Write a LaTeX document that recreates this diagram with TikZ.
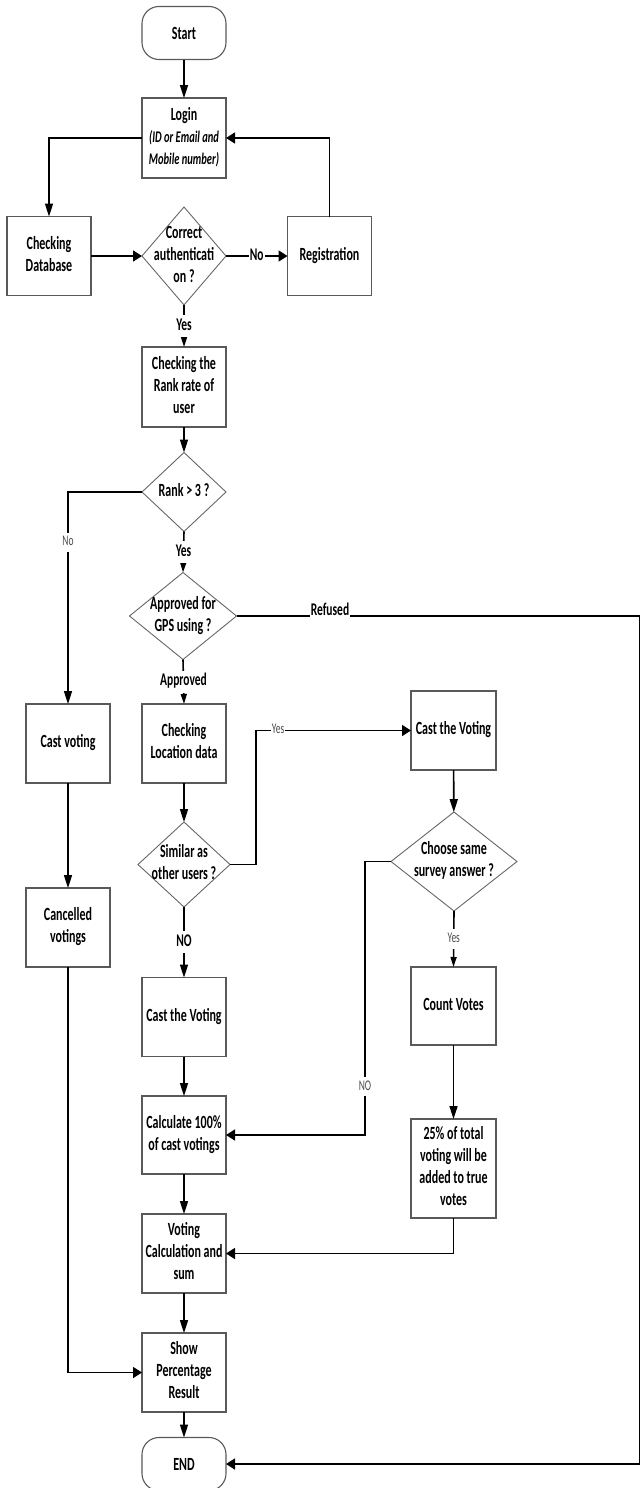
\documentclass[tikz,border=0pt]{standalone}
\usepackage{fontspec}
\setmainfont{Carlito}
\usepackage{graphicx}
\usetikzlibrary{shapes.geometric,arrows.meta}
% tall, narrow lettering: every text block is stretched vertically
\newcommand\vtxt[1]{\scalebox{1}[1.55]{\begin{tabular}{@{}c@{}}#1\end{tabular}}}
\newcommand\boxfont{\fontsize{12}{14.2}\selectfont\bfseries}
\newcommand\lblfont{\fontsize{11.5}{13}\selectfont\bfseries}
\newcommand\smlfont{\fontsize{9.5}{11}\selectfont}
\newcommand\subfont{\fontsize{10.5}{13.2}\selectfont\bfseries\itshape}
\begin{document}
\begin{tikzpicture}[x=1pt,y=-1pt,
  box/.style={draw=black!65, line width=1.1pt, minimum width=84pt, minimum height=79pt,
              inner sep=0pt, outer sep=0pt, font=\boxfont},
  % terminals are drawn in a vertically stretched frame (elliptic ends)
  term/.style={draw=black!65, line width=1.1pt, minimum width=84pt, minimum height=34.2pt,
              inner sep=0pt, outer sep=0pt, font=\boxfont, rounded corners=17pt, transform shape},
  decision/.style={diamond, draw=black!60, line width=0.9pt, inner sep=0pt, outer sep=0pt},
  dtext/.style={font=\boxfont, inner sep=0pt},
  conn/.style={line width=1.6pt, draw=black},
  harr/.style={conn, -{Triangle[length=9pt,width=11pt]}},
  varr/.style={conn, -{Triangle[length=13pt,width=8pt]}},
  sarr/.style={conn, -{Triangle[length=10pt,width=6pt]}},
  lblb/.style={font=\lblfont, fill=white, inner sep=1pt},
  lbls/.style={font=\smlfont, text=black!70, fill=white, inner sep=1pt}]

\useasboundingbox (0,0) rectangle (641,1488);

% ---- main column ----
\begin{scope}[shift={(184,33)}, yscale=1.55]
  \node[term] (start) at (0,0) {Start};
\end{scope}
\node[box, minimum height=80pt] (login) at (184,138)
  {\vtxt{Login\\{\subfont (ID or Email and}\\{\subfont Mobile number)}}};
\node[box] (cdb) at (49,256) {\vtxt{Checking\\Database}};
\node[decision, minimum width=84pt, minimum height=98pt] (auth) at (184,256) {};
\node[dtext] (autht) at (184,256) {\vtxt{Correct\\authenticati\\on ?}};
\node[box] (reg) at (329.5,256) {\vtxt{Registration}};
\node[box, minimum height=80pt] (rank) at (184,387) {\vtxt{Checking the\\Rank rate of\\user}};
\node[decision, minimum width=84pt, minimum height=79pt] (rankd) at (184,492) {};
\node[dtext] (rankdt) at (184,492) {\vtxt{Rank > 3 ?}};
\node[decision, minimum width=107pt, minimum height=87pt] (gps) at (183,616) {};
\node[dtext] (gpst) at (183,616) {\vtxt{Approved for\\GPS using ?}};
\node[box] (locn) at (184,743.5) {\vtxt{Checking\\Location data}};
\node[decision, minimum width=92pt, minimum height=85pt] (simd) at (184,864.5) {};
\node[dtext] (simdt) at (184,864.5) {\vtxt{Similar as\\other users ?}};
\node[box] (cast1) at (184,1017) {\vtxt{Cast the Voting}};
\node[box, minimum height=78pt] (calc) at (184,1135) {\vtxt{Calculate 100\%\\of cast votings}};
\node[box] (vcalc) at (184,1253.5) {\vtxt{Voting\\Calculation and\\sum}};
\node[box] (show) at (184,1372.5) {\vtxt{Show\\Percentage\\Result}};
\begin{scope}[shift={(184,1464)}, yscale=1.55]
  \node[term] (end) at (0,0) {END};
\end{scope}

% ---- left column ----
\node[box] (castv) at (68,743.5) {\vtxt{Cast voting}};
\node[box] (canc) at (68,927.5) {\vtxt{Cancelled\\votings}};

% ---- right column ----
\node[box, minimum width=85pt] (cast2) at (453.5,730.5) {\vtxt{Cast the Voting}};
\node[decision, minimum width=126pt, minimum height=99pt] (choose) at (454,861.5) {};
\node[dtext] (chooset) at (454,861.5) {\vtxt{Choose same\\survey answer ?}};
\node[box, minimum width=85pt, minimum height=78pt] (count) at (453.5,1006) {\vtxt{Count Votes}};
\node[box, minimum width=85pt, minimum height=99pt] (pct) at (453.5,1168.5)
  {\vtxt{25\% of total\\voting will be\\added to true\\votes}};

% ---- bend points ----
\coordinate (j1) at (256,864.5);
\coordinate (j2) at (365,861.5);
\coordinate (rc1) at (639.5,616);
\coordinate (rc2) at (639.5,1464);

% ---- connectors ----
\draw[varr] (start) -- (login);
\draw[varr] (login.west) -| (cdb.north);
\draw[harr] (cdb.east) -- (auth.west);
\draw[harr] (auth.east) -- node[lblb] (nolbl) {\vtxt{No}} (reg.west);
\draw[harr] (reg.north) |- (login.east);
\draw[sarr] (auth.south) -- node[lblb] (yes1) {\vtxt{Yes}} (rank.north);
\draw[varr] (rank) -- (rankd);
\draw[varr] (rankd.west) -| node[lbls, pos=0.618] (no2) {\vtxt{No}} (castv.north);
\draw[sarr] (rankd.south) -- node[lblb] (yes2) {\vtxt{Yes}} (gps.north);
\draw[harr] (gps.east) -- (rc1) -- (rc2) -- (end.east);
\node[lblb] (refl) at (330,611) {\vtxt{Refused}};
\draw[sarr] (gps.south) -- node[lblb] (appr) {\vtxt{Approved}} (locn.north);
\draw[varr] (locn) -- (simd);
\draw[harr] (simd.east) -- (j1) |- node[lbls, pos=0.571] (yes3) {\vtxt{Yes}} (cast2.west);
\draw[varr] (simd.south) -- node[lblb] (no3) {\vtxt{NO}} (cast1.north);
\draw[varr] (cast1) -- (calc);
\draw[varr] (calc) -- (vcalc);
\draw[varr] (vcalc) -- (show);
\draw[varr] (show) -- (end);
\draw[varr] (castv) -- (canc);
\draw[harr] (canc.south) |- (show.west);
\draw[varr] (cast2) -- (choose);
\draw[harr] (choose.west) -- (j2) |- node[lbls, pos=0.412] (no4) {\vtxt{NO}} (calc.east);
\draw[sarr] (choose.south) -- node[lbls] (yes4) {\vtxt{Yes}} (count.north);
\draw[varr] (count) -- (pct);
\draw[harr] (pct.south) |- (vcalc.east);
\end{tikzpicture}
\end{document}
